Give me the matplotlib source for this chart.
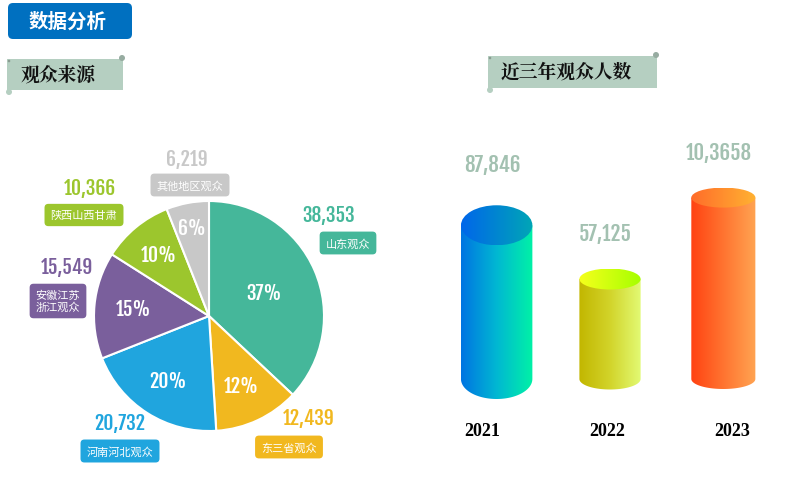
import numpy as np
import matplotlib
matplotlib.use('Agg')
import matplotlib.pyplot as plt
from matplotlib.patches import FancyBboxPatch, Rectangle, Circle, Ellipse, PathPatch
from matplotlib.path import Path
from matplotlib.colors import LinearSegmentedColormap

plt.rcParams['font.family'] = ['Noto Sans CJK SC', 'DejaVu Sans']

# ---- data ----
regions = ['山东观众', '东三省观众', '河南河北观众', '安徽江苏\n浙江观众', '陕西山西甘肃', '其他地区观众']
visitors = [38353, 12439, 20732, 15549, 10366, 6219]
visitor_labels = ['38,353', '12,439', '20,732', '15,549', '10,366', '6,219']
pie_colors = ['#45b79a', '#f1b81f', '#20a5de', '#7a5f9c', '#9cc62d', '#c8c8c8']

years = ['2021', '2022', '2023']
totals = [87846, 57125, 103658]
total_labels = ['87,846', '57,125', '10,3658']

NUM = ['Fjalla One', 'Oswald', 'DejaVu Sans']
CJK = ['Noto Sans CJK SC', 'DejaVu Sans']
SERIF_CJK = ['Noto Serif CJK SC', 'Noto Sans CJK SC', 'DejaVu Sans']

fig = plt.figure(figsize=(8, 4.85), dpi=100)

# background axes in pixel coordinates
ax = fig.add_axes([0, 0, 1, 1])
ax.set_xlim(0, 800)
ax.set_ylim(485, 0)
ax.axis('off')

# header
ax.add_patch(FancyBboxPatch((8, 4), 124, 36, boxstyle='round,pad=0,rounding_size=5',
                            fc='#0070c0', ec='none'))
ax.text(68, 22, '数据分析', color='white', fontsize=14, fontweight='bold',
        ha='center', va='center', family=CJK)


def scroll_box(x0, y0, w, h, title):
    ax.add_patch(Rectangle((x0, y0), w, h, fc='#b5cfc1', ec='none'))
    ax.add_patch(Circle((x0 + w - 1, y0 - 1), 3, fc='#97aca1', ec='none'))
    ax.add_patch(Circle((x0 + 2, y0 + h + 2), 3, fc='#b5cfc1', ec='none'))
    ax.add_patch(Circle((x0 + 2, y0 + 2), 1.3, fc='#8a9c92', ec='none'))
    ax.text(x0 + 13, y0 + h / 2, title, fontsize=13.5, fontweight='bold',
            ha='left', va='center', color='#111111', family=SERIF_CJK)


scroll_box(7, 60, 116, 31, '观众来源')
scroll_box(488, 57, 169, 32, '近三年观众人数')

# ---- pie ----
cx, cy, R = 209, 317, 115
side = 2.5 * R
pax = fig.add_axes([(cx - side / 2) / 800, (485 - cy - side / 2) / 485, side / 800, side / 485])
wedges, _, autotexts = pax.pie(visitors, colors=pie_colors, startangle=90, counterclock=False,
                               autopct=lambda p: f'{p:.0f}%', pctdistance=0.66,
                               wedgeprops=dict(edgecolor='white', linewidth=1.5),
                               textprops=dict(color='white', fontsize=14, fontweight='bold', family=NUM))
pct_r = [0.52, 0.67, 0.66, 0.66, 0.69, 0.78]
for w, t, r in zip(wedges, autotexts, pct_r):
    a = np.deg2rad((w.theta1 + w.theta2) / 2)
    t.set_position((r * np.cos(a), r * np.sin(a)))

# value labels and name tags around the pie
num_pos = [(329, 216), (309, 419), (120, 424), (67, 268), (90, 189), (187, 160)]
tag_pos = [(348, 244), (289, 448), (120, 452), (58, 302), (84, 216), (190, 186)]
for name, lab, col, (nx, ny), (tx, ty) in zip(regions, visitor_labels, pie_colors, num_pos, tag_pos):
    ax.text(nx, ny, lab, color=col, fontsize=14, fontweight='bold', ha='center', va='center', family=NUM)
    ax.text(tx, ty, name, color='white', fontsize=8, ha='center', va='center', family=CJK,
            linespacing=1.15,
            bbox=dict(boxstyle='round,pad=0.55,rounding_size=0.35', fc=col, ec='none'))

# ---- cylinders ----
px_per_unit = 0.00175
base_px = 380
below = 40
bax = fig.add_axes([440 / 800, (485 - base_px - below) / 485, 340 / 800, (250 + below) / 485])
py = 1 / px_per_unit  # data units per pixel (y)
ytop = 250 * py
ybot = -below * py
bax.axis('off')

widths = [0.63, 0.54, 0.565]
cap_ry = [20, 10.5, 10]
label_off = [22, 18, 18]
body_cols = [['#0074e2', '#00b8d2', '#00f2a6'],
             ['#c2b600', '#d2d42a', '#e2fa74'],
             ['#ff4212', '#ff7430', '#ffa452']]
cap_cols = [['#0066ea', '#00a6b6'],
            ['#f6ff1c', '#a6ff00'],
            ['#ff6c2a', '#ffb232']]

t = np.linspace(np.pi, 2 * np.pi, 60)
grad = np.linspace(0, 1, 256)[np.newaxis, :]
for i, v in enumerate(totals):
    w = widths[i]
    h = v
    ry = cap_ry[i] * py
    x0, x1 = i - w / 2, i + w / 2
    # body outline: left side, lower half ellipse, right side
    verts = [(x0, h)] + [(i + w / 2 * np.cos(a), ry * np.sin(a)) for a in t] + [(x1, h), (x0, h)]
    body = PathPatch(Path(verts), transform=bax.transData, fc='none', ec='none')
    cm = LinearSegmentedColormap.from_list(f'b{i}', body_cols[i])
    bax.imshow(grad, cmap=cm, extent=[x0, x1, -ry, h], aspect='auto', clip_path=body,
               interpolation='bilinear', zorder=2)
    cap = Ellipse((i, h), w, 2 * ry, transform=bax.transData, fc='none', ec='none')
    cm2 = LinearSegmentedColormap.from_list(f'c{i}', cap_cols[i])
    bax.imshow(grad, cmap=cm2, extent=[x0, x1, h - ry, h + ry], aspect='auto', clip_path=cap,
               interpolation='bilinear', zorder=3)
    bax.annotate(total_labels[i], (i - 0.04, h + ry), xytext=(0, label_off[i]), textcoords='offset points',
                 ha='center', va='bottom', color='#a3c1b1', fontsize=15, fontweight='bold',
                 family=NUM, annotation_clip=False)

bax.set_xlim(-0.5, 2.5)
bax.set_ylim(ybot, ytop)

# year labels under the cylinders
year_x = [482, 607, 732]
for yx, yr in zip(year_x, years):
    ax.text(yx, 432, yr, ha='center', va='center', fontsize=13,
            fontweight='bold', family=['Liberation Serif', 'DejaVu Serif'], color='black')

fig.savefig('out.png', dpi=100)
